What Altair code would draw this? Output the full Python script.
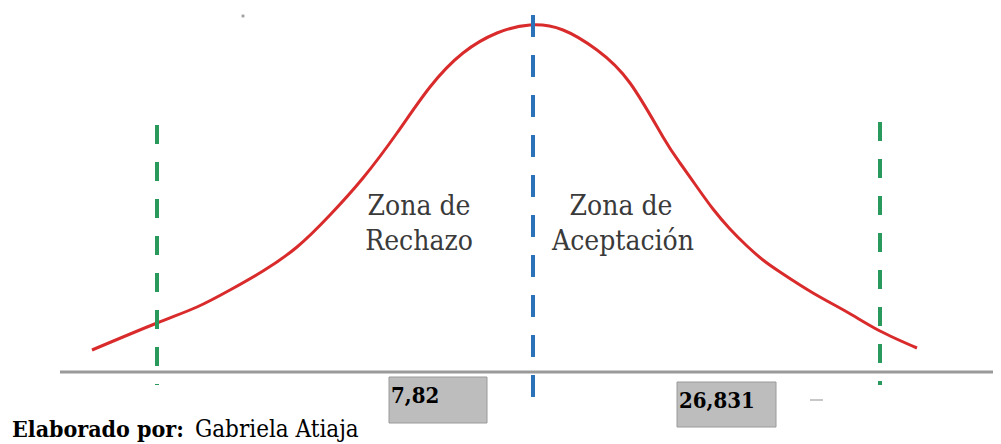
import altair as alt
import pandas as pd

# Curve (x: distance along the axis, y: height above the axis)
curve_x = [32, 97, 137, 170, 203, 237, 270, 303, 337, 370, 403, 437, 470, 503, 537, 570, 603, 620, 637, 653, 670, 687, 703, 720, 753, 787, 820, 857]
curve_y = [22, 49, 65, 82, 101, 125, 157, 194, 239, 285, 319, 339, 347, 342, 322, 289, 235, 209, 185, 163, 143, 126, 112, 100, 79, 60, 41, 24]

# Dashed reference lines
green_x = [97, 820]
green_top = [247, 250]
green_bottom = [-13, -13]
blue_x = [473]
blue_top = [357]
blue_bottom = [-25]

# Axis line
axis_x = [0]
axis_x2 = [933]
axis_y = [0]

# Small stray marks of the scan
dot_x = [183]
dot_y = [356]
dash_x = [750]
dash_x2 = [763]
dash_y = [-28]

# Zone labels
zone_text = ["Zona de", "Rechazo", "Zona de", "Aceptación"]
zone_x = [359, 359, 561, 563]
zone_y = [157, 122, 157, 122]

# Value boxes
box_labels = ["7,82", "26,831"]
box_x0 = [329, 617]
box_x1 = [427, 716]
box_y0 = [-5, -10]
box_y1 = [-51, -55]
label_x = [331, 619]
label_y = [-31, -36]

# Footer
foot_bold = ["Elaborado por:"]
foot_reg = ["Gabriela Atiaja"]
foot_bold_x = [-48]
foot_reg_x = [135]
foot_y = [-65]

SERIF = "DejaVu Serif Condensed, DejaVu Serif, serif"

XS = alt.Scale(domain=[-52, 933])
YS = alt.Scale(domain=[-72, 364])


def X(f="x"):
    return alt.X(f"{f}:Q", scale=XS, axis=None)


def Y(f="y"):
    return alt.Y(f"{f}:Q", scale=YS, axis=None)


curve_df = pd.DataFrame({"x": curve_x, "y": curve_y})
curve = alt.Chart(curve_df).mark_line(
    color="#d92b2b", strokeWidth=3, interpolate="natural"
).encode(x=X(), y=Y())

axis_df = pd.DataFrame({"x": axis_x, "x2": axis_x2, "y": axis_y})
axis_line = alt.Chart(axis_df).mark_rule(color="#9a9a9a", strokeWidth=3).encode(
    x=X(), x2="x2:Q", y=Y()
)

green_df = pd.DataFrame({"x": green_x, "y": green_top, "y2": green_bottom})
green = alt.Chart(green_df).mark_rule(
    color="#2a9a5c", strokeWidth=4, strokeDash=[19, 18]
).encode(x=X(), y=Y(), y2="y2:Q")

blue_df = pd.DataFrame({"x": blue_x, "y": blue_top, "y2": blue_bottom})
blue = alt.Chart(blue_df).mark_rule(
    color="#2b72b8", strokeWidth=4, strokeDash=[22, 18]
).encode(x=X(), y=Y(), y2="y2:Q")

dot_df = pd.DataFrame({"x": dot_x, "y": dot_y})
dot = alt.Chart(dot_df).mark_square(color="#8a8a8a", size=8, opacity=0.8).encode(x=X(), y=Y())

dash_df = pd.DataFrame({"x": dash_x, "x2": dash_x2, "y": dash_y})
dash = alt.Chart(dash_df).mark_rule(color="#b5b5b5", strokeWidth=1.5).encode(
    x=X(), x2="x2:Q", y=Y()
)

zone_df = pd.DataFrame({"t": zone_text, "x": zone_x, "y": zone_y})
zones = alt.Chart(zone_df).mark_text(
    font=SERIF, fontSize=28, color="#3a3a3a", align="center", baseline="alphabetic"
).encode(x=X(), y=Y(), text="t:N")

box_df = pd.DataFrame({"x": box_x0, "x2": box_x1, "y": box_y0, "y2": box_y1})
boxes = alt.Chart(box_df).mark_rect(
    fill="#bdbdbd", stroke="#9a9a9a", strokeWidth=1
).encode(x=X(), x2="x2:Q", y=Y(), y2="y2:Q")

lab_df = pd.DataFrame({"t": box_labels, "x": label_x, "y": label_y})
labels = alt.Chart(lab_df).mark_text(
    font=SERIF, fontSize=22, fontWeight="bold", color="#000000",
    align="left", baseline="alphabetic"
).encode(x=X(), y=Y(), text="t:N")

fb_df = pd.DataFrame({"t": foot_bold, "x": foot_bold_x, "y": foot_y})
foot1 = alt.Chart(fb_df).mark_text(
    font=SERIF, fontSize=23, fontWeight="bold", color="#000000",
    align="left", baseline="alphabetic"
).encode(x=X(), y=Y(), text="t:N")

fr_df = pd.DataFrame({"t": foot_reg, "x": foot_reg_x, "y": foot_y})
foot2 = alt.Chart(fr_df).mark_text(
    font=SERIF, fontSize=24, color="#000000",
    align="left", baseline="alphabetic"
).encode(x=X(), y=Y(), text="t:N")

chart = alt.layer(
    axis_line, curve, green, blue, dot, dash, zones, boxes, labels, foot1, foot2
).properties(
    width=985, height=436, padding=0, autosize=alt.AutoSizeParams(type="none"),
    background="white"
).configure_view(stroke=None)

chart.save("out.html", embed_options={"renderer": "svg", "actions": False})
